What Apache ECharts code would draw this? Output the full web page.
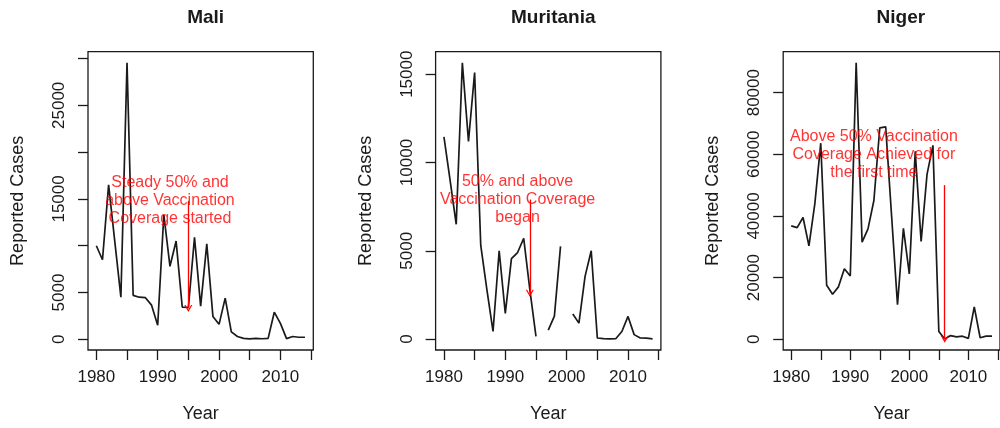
<!DOCTYPE html>
<html>
<head>
<meta charset="utf-8">
<title>Reported Cases — Mali, Muritania, Niger</title>
<script src="https://cdn.jsdelivr.net/npm/echarts@6/dist/echarts.min.js"></script>
<style>
  html, body { margin: 0; padding: 0; background: #ffffff; }
  #chart { width: 1000px; height: 428px; }
</style>
</head>
<body>
<div id="chart"></div>
<script>
// ---- data -------------------------------------------------------------
const years = [1980, 1981, 1982, 1983, 1984, 1985, 1986, 1987, 1988, 1989,
               1990, 1991, 1992, 1993, 1994, 1995, 1996, 1997, 1998, 1999,
               2000, 2001, 2002, 2003, 2004, 2005, 2006, 2007, 2008, 2009,
               2010, 2011, 2012, 2013, 2014];

const maliCases = [10000, 8500, 16500, 10500, 4500, 29550, 4700, 4500, 4450, 3650,
                   1500, 13300, 7800, 10500, 3450, 3400, 10900, 3550, 10200, 2450,
                   1600, 4400, 800, 300, 100, 40, 100, 60, 100, 2900,
                   1700, 80, 300, 220, 220];

// 1996 and 2000 not reported
const muritaniaCases = [11450, 9000, 6500, 15650, 11200, 15100, 5300, 2800, 430, 5000,
                        1450, 4550, 4900, 5700, 2800, 150, null, 500, 1300, 5250,
                        null, 1420, 900, 3550, 5000, 60, 20, 5, 20, 430,
                        1280, 250, 60, 50, 10];

const nigerCases = [36800, 36200, 39500, 30300, 44000, 63600, 17500, 14600, 17000, 22900,
                    20500, 89700, 31500, 35800, 45000, 68600, 68900, 40000, 11200, 36000,
                    21200, 61000, 31700, 53500, 62900, 2500, 100, 1200, 800, 1000,
                    300, 10500, 500, 1000, 1000];

// axis ticks and the subset of ticks that carry a label
const xTicks  = [1980, 1985, 1990, 1995, 2000, 2005, 2010, 2015];
const xLabels = [1980, 1990, 2000, 2010];
const maliYTicks   = [0, 5000, 10000, 15000, 20000, 25000, 30000];
const maliYLabels  = [0, 5000, 15000, 25000];
const muritaniaYTicks  = [0, 5000, 10000, 15000];
const muritaniaYLabels = [0, 5000, 10000, 15000];
const nigerYTicks  = [0, 20000, 40000, 60000, 80000];
const nigerYLabels = [0, 20000, 40000, 60000, 80000];

// annotations: text centre [year, cases], arrow [year, from, to]
const maliNote  = 'Steady 50% and\nabove Vaccination\nCoverage started';
const maliNoteAt = [1992, 14800];
const maliArrow  = [1995, 14800, 3300];
const muritaniaNote  = '50% and above\nVaccination Coverage\nbegan';
const muritaniaNoteAt = [1992, 7900];
const muritaniaArrow  = [1994, 7900, 2600];
const nigerNote  = 'Above 50% Vaccination\nCoverage Achieved for\nthe first time';
const nigerNoteAt = [1994, 60000];
const nigerArrow  = [2006, 50000, 0];

// ---- chart ------------------------------------------------------------
const FONT = '"Liberation Sans", Arial, Helvetica, sans-serif';
const INK = '#1a1a1a';
const ARROW_HEAD = 'path://M5,0 L10,9 L8.4,9 L5,2.9 L1.6,9 L0,9 Z';

const panels = [
  { title: 'Mali',      values: maliCases,      yTicks: maliYTicks,      yLabels: maliYLabels,      note: maliNote,      noteAt: maliNoteAt,      arrow: maliArrow },
  { title: 'Muritania', values: muritaniaCases, yTicks: muritaniaYTicks, yLabels: muritaniaYLabels, note: muritaniaNote, noteAt: muritaniaNoteAt, arrow: muritaniaArrow },
  { title: 'Niger',     values: nigerCases,     yTicks: nigerYTicks,     yLabels: nigerYLabels,     note: nigerNote,     noteAt: nigerNoteAt,     arrow: nigerArrow }
];

const PANEL_LEFT = 88, PANEL_STEP = 347.6, PANEL_TOP = 51.7;
const PANEL_W = 225.3, PANEL_H = 301.6;

const grids = [], xAxes = [], yAxes = [], series = [], titles = [];

panels.forEach((p, i) => {
  const left = PANEL_LEFT + i * PANEL_STEP;
  grids.push({
    left: left, top: PANEL_TOP, width: PANEL_W, height: PANEL_H,
    show: true, borderColor: INK, borderWidth: 1.3, backgroundColor: 'transparent'
  });

  // plot ranges padded by 4% on each side
  const finite = p.values.filter(v => v !== null);
  const lo = Math.min(...finite), hi = Math.max(...finite);
  const ypad = 0.04 * (hi - lo);
  const x0 = years[0], x1 = years[years.length - 1];
  const xpad = 0.04 * (x1 - x0);

  xAxes.push({
    type: 'value', gridIndex: i, min: x0 - xpad, max: x1 + xpad,
    name: 'Year', nameLocation: 'middle', nameGap: 55,
    nameTextStyle: { fontFamily: FONT, fontSize: 18, color: INK },
    axisLine: { show: false, onZero: false },
    axisTick: { show: true, length: 10, customValues: xTicks, lineStyle: { color: INK, width: 1.3 } },
    axisLabel: { customValues: xLabels, margin: 19, fontFamily: FONT, fontSize: 17, color: INK,
                 formatter: v => String(v) },
    splitLine: { show: false }
  });

  yAxes.push({
    type: 'value', gridIndex: i, min: lo - ypad, max: hi + ypad,
    name: 'Reported Cases', nameLocation: 'middle', nameGap: 61,
    nameTextStyle: { fontFamily: FONT, fontSize: 18, color: INK },
    axisLine: { show: false, onZero: false },
    axisTick: { show: true, length: 10, customValues: p.yTicks, lineStyle: { color: INK, width: 1.3 } },
    axisLabel: { customValues: p.yLabels, rotate: 90, margin: 20, fontFamily: FONT, fontSize: 17, color: INK,
                 formatter: v => String(v) },
    splitLine: { show: false }
  });

  titles.push({
    text: p.title, left: left + PANEL_W / 2, top: 3, textAlign: 'center',
    textStyle: { fontFamily: FONT, fontSize: 19, fontWeight: 'bold', color: INK }
  });

  series.push({
    type: 'line', xAxisIndex: i, yAxisIndex: i,
    data: years.map((y, k) => [y, p.values[k]]),
    showSymbol: false, symbol: 'none', connectNulls: false,
    lineStyle: { color: INK, width: 1.7 },
    markLine: {
      silent: true, animation: false,
      symbol: ['none', ARROW_HEAD], symbolSize: [8, 7],
      label: { show: false },
      lineStyle: { color: '#ff0000', width: 1.3, type: 'solid' },
      data: [[ { coord: [p.arrow[0], p.arrow[1]] }, { coord: [p.arrow[0], p.arrow[2]] } ]]
    },
    z: 2
  });

  series.push({
    type: 'scatter', xAxisIndex: i, yAxisIndex: i,
    data: [p.noteAt], symbolSize: 0, silent: true,
    label: {
      show: true, position: 'inside', formatter: () => p.note,
      fontFamily: FONT, fontSize: 16, lineHeight: 18, color: '#ff0000',
      align: 'center', verticalAlign: 'middle'
    },
    z: 3
  });
});

const chart = echarts.init(document.getElementById('chart'), null, { renderer: 'canvas' });
chart.setOption({
  animation: false,
  backgroundColor: '#ffffff',
  title: titles,
  grid: grids,
  xAxis: xAxes,
  yAxis: yAxes,
  series: series
});
</script>
</body>
</html>
